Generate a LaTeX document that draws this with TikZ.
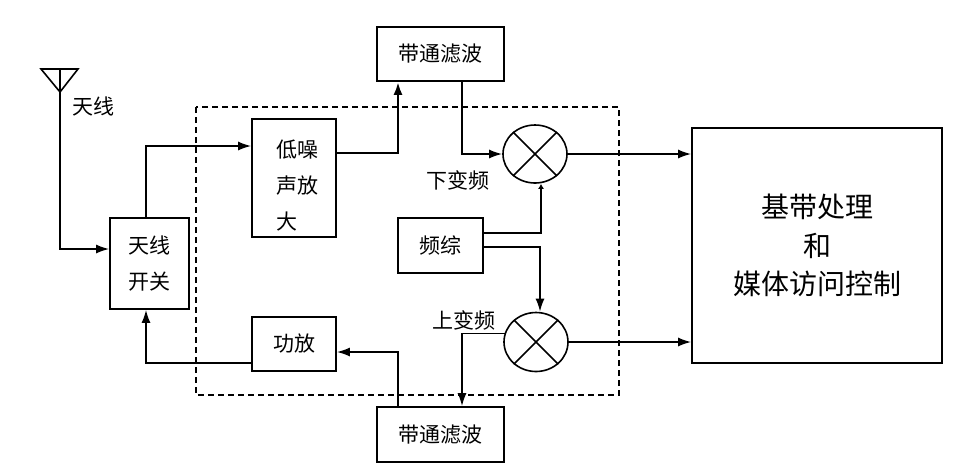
\documentclass[tikz,border=0pt]{standalone}
\usepackage{fontspec}
\newfontfamily\cjk{Noto Sans CJK SC}
\usetikzlibrary{arrows.meta,shapes.geometric}

\begin{document}
\begin{tikzpicture}[x=1pt, y=-1pt,
		box/.style={draw, line width=1.6pt, font=\cjk\fontsize{21}{36}\selectfont, inner sep=0pt},
		mixer/.style={draw, ellipse, line width=1.6pt, inner sep=0pt},
		conn/.style={line width=1.8pt, -{Latex[length=13pt, width=9pt]}},
		lbl/.style={font=\cjk\fontsize{21}{25}\selectfont, inner sep=0pt}]
		%%%%% START %%%%%
		
		\useasboundingbox (0, 0) rectangle (965, 467);
		
		\draw[line width=1.2pt, dash pattern=on 6pt off 4pt] (196, 107) rectangle (619, 395);
		
		\draw[line width=1.6pt] (41, 69) -- (78, 69) -- (60, 92) -- cycle;
		\coordinate (ant) at (60, 69);
		\node[lbl] (antlbl) at (93, 106) {天线};
		
		\node[box, minimum width=79, minimum height=91, align=center] (sw) at (149.5, 263.5) {天线\\开关};
		\node[box, minimum width=84, minimum height=118] (lna) at (294, 178) {};
		\node[lbl, align=left, font=\cjk\fontsize{21}{36}\selectfont] (lnatxt) at (297, 186) {低噪\\声放\\大};
		\node[box, minimum width=84, minimum height=54] (pa) at (294, 344) {功放};
		\node[box, minimum width=127, minimum height=54] (bpfup) at (440.5, 54) {带通滤波};
		\node[box, minimum width=127, minimum height=55] (bpfdn) at (440.5, 434.5) {带通滤波};
		\node[box, minimum width=85, minimum height=55] (fz) at (440.5, 245.5) {频综};
		\node[box, minimum width=250, minimum height=235, align=center, font=\cjk\fontsize{28}{38.5}\selectfont] (bb) at (817, 245.5) {基带处理\\和\\媒体访问控制};
		
		\node[mixer, minimum width=64, minimum height=58] (mix1) at (535, 154) {};
		\draw[line width=1.6pt] (mix1.45) -- (mix1.225);
		\draw[line width=1.6pt] (mix1.135) -- (mix1.315);
		\node[mixer, minimum width=64, minimum height=59] (mix2) at (536, 342) {};
		\draw[line width=1.6pt] (mix2.45) -- (mix2.225);
		\draw[line width=1.6pt] (mix2.135) -- (mix2.315);
		
		\node[lbl] (dnlbl) at (458, 180) {下变频};
		\node[lbl] (uplbl) at (464, 320) {上变频};
		
		% receive path
		\draw[conn] (ant) |- ([yshift=14.5pt]sw.west);
		\draw[conn] ([xshift=-3.5pt]sw.north) |- ([yshift=32pt]lna.west);
		\draw[conn, line width=2.6pt] ([yshift=25pt]lna.east) -| ([xshift=-42.5pt]bpfup.south);
		\draw[conn] ([xshift=21.5pt]bpfup.south) |- (mix1.west);
		\draw[conn] (mix1.east) -- (mix1.east -| bb.west);
		\draw[conn, -{Latex[length=5pt, width=6pt]}] ([yshift=12.5pt]fz.east) -| ([xshift=6pt]mix1.south);
		
		% transmit path
		\draw[conn] ([yshift=-1.5pt]fz.east) -| ([xshift=4pt]mix2.north);
		\draw[conn] (mix2.165) -| ([xshift=21.5pt]bpfdn.north);
		\draw[conn] (mix2.east) -- (mix2.east -| bb.west);
		\draw[conn] ([xshift=-42.5pt]bpfdn.north) |- ([yshift=-8pt]pa.east);
		\draw[conn] ([yshift=-19pt]pa.west) -| ([xshift=-3.5pt]sw.south);
		
		%%%%% END %%%%%
	\end{tikzpicture}
\end{document}
